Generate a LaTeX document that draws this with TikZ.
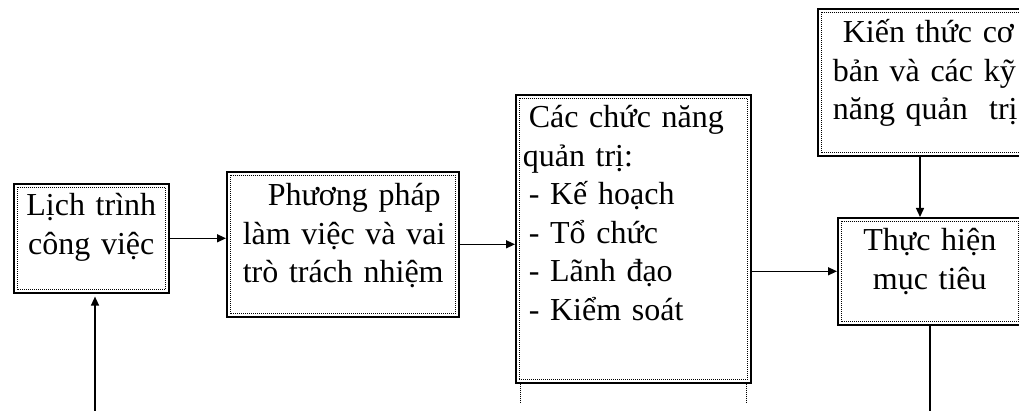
\documentclass[tikz,border=0pt]{standalone}
\usepackage{fontspec}
\setmainfont{Liberation Serif}
\usetikzlibrary{arrows.meta, calc, positioning}

\begin{document}
\begin{tikzpicture}[x=1pt, y=-1pt,
  box/.style={draw, line width=1.6pt, anchor=north west, inner ysep=0pt, font={\fontsize{32}{38.5}\selectfont}},
  dots/.style={line width=0.9pt, dash pattern=on 1pt off 1pt},
  link/.style={line width=1.4pt, -{Triangle[length=9pt, width=8pt]}}]

\useasboundingbox (0,0) rectangle (1019,411);
\clip (0,0) rectangle (1019,411);

\node (lich)[box, align=center, inner xsep=4pt, text width=147pt, text height=32pt, text depth=77pt] at (13,183) {Lịch~trình\\công~việc};
\node (pp)[box, align=left, inner xsep=16pt, text width=200pt, text height=34pt, text depth=111pt] at (226,171) {\hspace*{25pt}Phương~pháp\\làm~việc~và~vai\\trò~trách~nhiệm};
\node (cn)[box, align=left, inner xsep=13pt, text width=209pt, text height=33pt, text depth=255pt] at (515,94) {Các~chức~năng\\\hspace*{-6pt}quản~trị:\\- Kế~hoạch\\- Tổ~chức\\- Lãnh~đạo\\- Kiểm~soát};
\node (kt)[box, align=left, inner xsep=15pt, text width=210pt, text height=34pt, text depth=113pt] at (817,8) {\hspace*{10pt}Kiến~thức~cơ\\bản~và~các~kỹ\\năng~quản~~trị};
\node (th)[box, align=center, inner xsep=6pt, text width=172pt, text height=33pt, text depth=74pt] at (837,217) {Thực~hiện\\mục~tiêu};

% inner dotted frames
\foreach \n in {lich,pp,cn,kt,th}
  \draw[dots] ($(\n.north west)+(4,4)$) rectangle ($(\n.south east)+(-4,-4)$);
\draw[dots] ($(cn.south west)+(5,0)$) -- +(0,19);
\draw[dots] ($(cn.south east)+(-5,0)$) -- +(0,19);

\coordinate (i1) at (95,411);
\coordinate (k1) at ($(kt.south west)+(103,0)$);
\coordinate (o1) at (th.south |- i1);

\draw[link] (lich.east) -- (lich.east -| pp.west);
\draw[link] (pp.east) -- (pp.east -| cn.west);
\draw[link] (th.west -| cn.east) -- (th.west);
\draw[link] (k1) -- (k1 |- th.north);
\draw[link, shorten >=3pt] (i1) -- (i1 |- lich.south);
\draw[line width=1.4pt] (th.south) -- (o1);
\end{tikzpicture}
\end{document}
